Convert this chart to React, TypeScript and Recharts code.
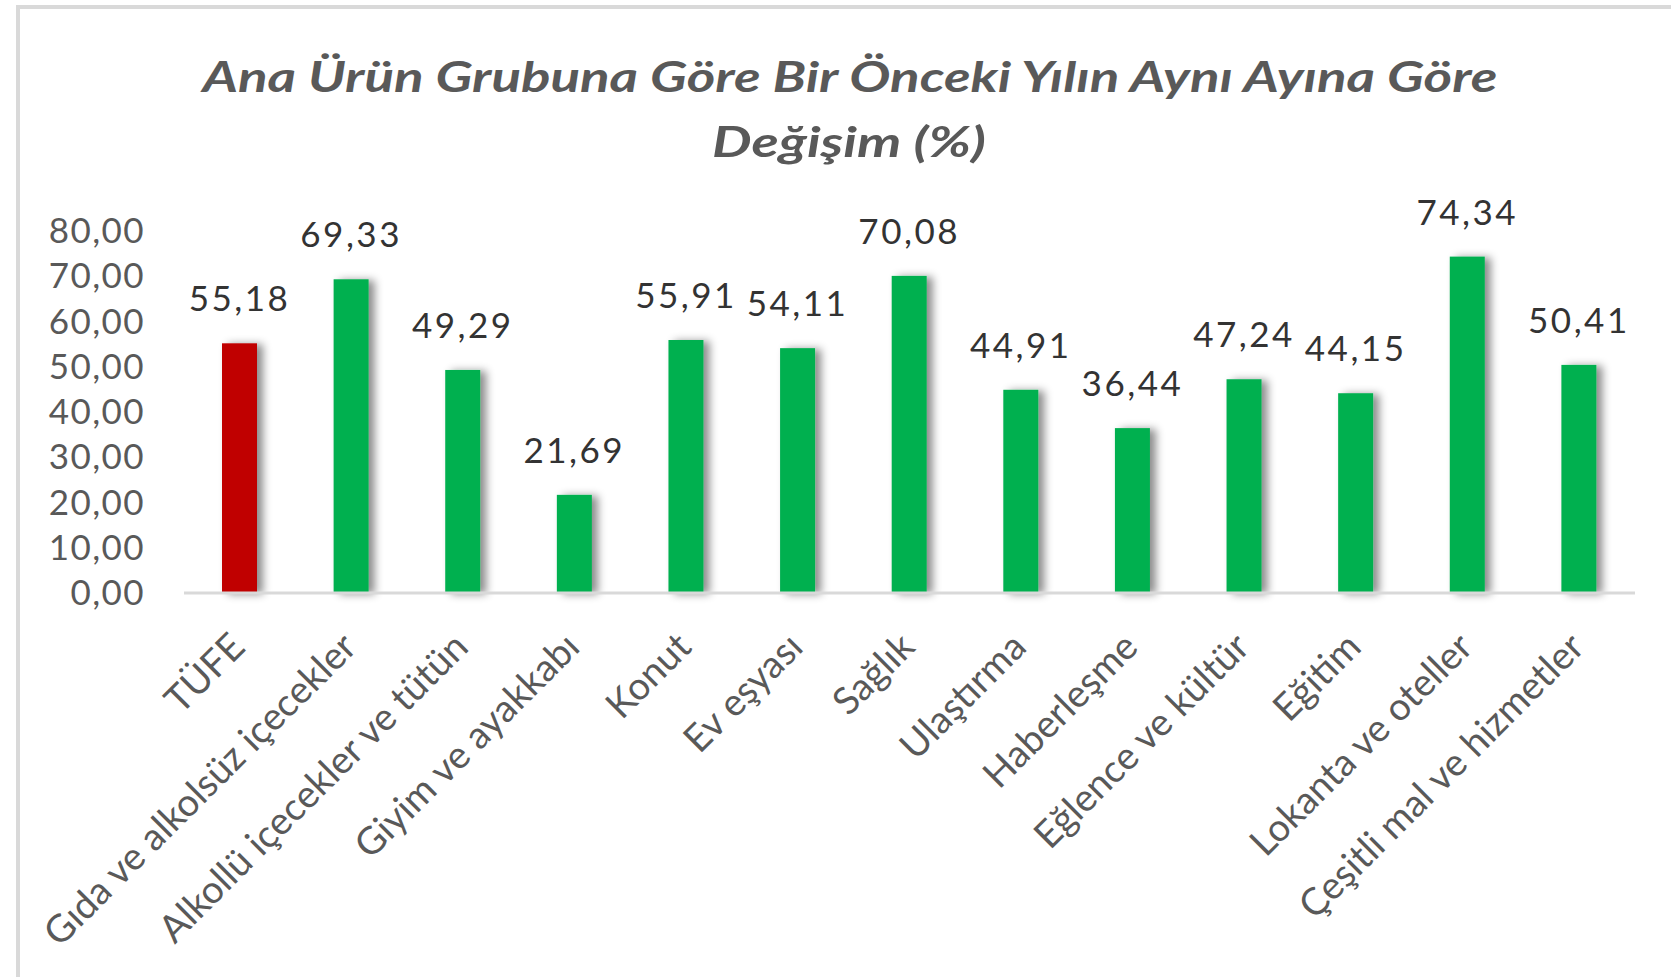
import React from 'react';
import { BarChart, Bar, XAxis, YAxis, LabelList, Cell } from 'recharts';

const categories: string[] = [
  'TÜFE',
  'Gıda ve alkolsüz içecekler',
  'Alkollü içecekler ve tütün',
  'Giyim ve ayakkabı',
  'Konut',
  'Ev eşyası',
  'Sağlık',
  'Ulaştırma',
  'Haberleşme',
  'Eğlence ve kültür',
  'Eğitim',
  'Lokanta ve oteller',
  'Çeşitli mal ve hizmetler',
];

const values: number[] = [55.18, 69.33, 49.29, 21.69, 55.91, 54.11, 70.08, 44.91, 36.44, 47.24, 44.15, 74.34, 50.41];

const yTicks: number[] = [0, 10, 20, 30, 40, 50, 60, 70, 80];

const titleLines: string[] = ['Ana Ürün Grubuna Göre Bir Önceki Yılın Aynı Ayına Göre', 'Değişim (%)'];

const data = categories.map((name, i) => ({ name, value: values[i] }));

const FONT = 'Lato, "Open Sans", sans-serif';
const fmt = (v: number) => v.toFixed(2).replace('.', ',');

const YTick = (props: any) => {
  const { y, payload } = props;
  return (
    <text x={145} y={y} dy={12} textAnchor="end" fill="#595959" fontSize={35} letterSpacing={1.4} fontFamily={FONT}>
      {fmt(payload.value)}
    </text>
  );
};

const XTick = (props: any) => {
  const { x, payload } = props;
  return (
    <g transform={`translate(${x - 2},640)`}>
      <text transform="rotate(-45)" y={13} textAnchor="end" fill="#595959" fontSize={38} fontFamily={FONT}>
        {payload.value}
      </text>
    </g>
  );
};

const ShadowBar = (props: any) => {
  const { x, y, width, height, fill } = props;
  return <rect x={x} y={y} width={width} height={height} fill={fill} filter="url(#barShadow)" />;
};

export default function App() {
  return (
    <div
      style={{
        position: 'fixed',
        left: 0,
        top: 0,
        width: 1671,
        height: 977,
        background: '#ffffff',
        overflow: 'hidden',
      }}
    >
      <svg width={0} height={0} style={{ position: 'absolute' }}>
        <defs>
          <filter id="barShadow" x="-50%" y="-20%" width="200%" height="140%">
            <feDropShadow dx={6} dy={1} stdDeviation={4} floodColor="#000000" floodOpacity={0.45} />
          </filter>
        </defs>
      </svg>
      <div
        style={{
          position: 'absolute',
          left: 16,
          top: 5,
          width: 1700,
          height: 1000,
          borderTop: '4px solid #d9d9d9',
          borderLeft: '4px solid #d9d9d9',
        }}
      />
      <svg width={1671} height={200} style={{ position: 'absolute', left: 0, top: 0 }}>
        <text
          x={850}
          y={92}
          textAnchor="middle"
          fill="#595959"
          fontSize={42}
          fontWeight={700}
          fontStyle="italic"
          fontFamily={FONT}
          textLength={1295}
          lengthAdjust="spacingAndGlyphs"
        >
          {titleLines[0]}
        </text>
        <text
          x={849}
          y={157}
          textAnchor="middle"
          fill="#595959"
          fontSize={42}
          fontWeight={700}
          fontStyle="italic"
          fontFamily={FONT}
          textLength={274}
          lengthAdjust="spacingAndGlyphs"
        >
          {titleLines[1]}
        </text>
      </svg>
      <div style={{ position: 'absolute', left: 0, top: 0 }}>
        <BarChart
          width={1671}
          height={977}
          data={data}
          margin={{ top: 231, right: 36, bottom: 354, left: 0 }}
        >
          <XAxis
            dataKey="name"
            height={30}
            interval={0}
            tickLine={false}
            axisLine={{ stroke: '#d9d9d9', strokeWidth: 3 }}
            tick={<XTick />}
          />
          <YAxis
            width={184}
            domain={[0, 80]}
            ticks={yTicks}
            interval={0}
            axisLine={false}
            tickLine={false}
            tick={<YTick />}
          />
          <Bar dataKey="value" barSize={35} isAnimationActive={false} shape={<ShadowBar />}>
            {data.map((d, i) => (
              <Cell key={d.name} fill={i === 0 ? '#c00000' : '#00b050'} />
            ))}
            <LabelList
              dataKey="value"
              position="top"
              offset={32}
              formatter={(v: any) => fmt(Number(v))}
              fill="#333333"
              fontSize={35}
              letterSpacing={2.5}
              fontFamily={FONT}
            />
          </Bar>
        </BarChart>
      </div>
    </div>
  );
}
